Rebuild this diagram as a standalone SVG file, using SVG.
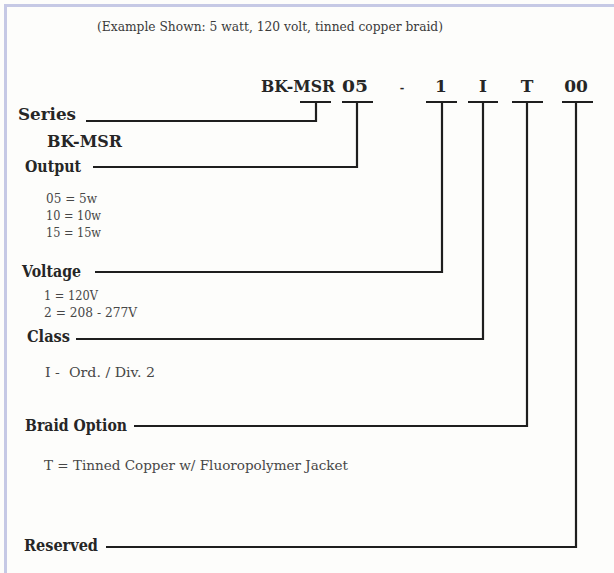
<svg xmlns="http://www.w3.org/2000/svg" width="614" height="573" viewBox="0 0 614 573">
<style>
text{font-family:"DejaVu Serif","Liberation Serif",serif;fill:#262626}
.t{font-size:13.5px;fill:#3a3a3a}
.code{font-size:17px;font-weight:bold}
.lab{font-size:16px;font-weight:bold}
.sm{font-size:13px;fill:#474747}
.ln{fill:none;stroke:#1e1e1e;stroke-width:2.2;stroke-linejoin:miter}
</style>
<rect x="0" y="0" width="614" height="573" fill="#fdfdfb"/>
<path d="M5.5,580 V5.5 H620" fill="none" stroke="#c6c9e5" stroke-width="3"/>
<g id="title"><text class="t" x="97" y="31" textLength="346" lengthAdjust="spacingAndGlyphs">(Example Shown: 5 watt, 120 volt, tinned copper braid)</text></g>
<g id="code">
<text class="code" x="261" y="92" textLength="74" lengthAdjust="spacingAndGlyphs">BK-MSR</text>
<text class="code" x="342" y="92" textLength="26" lengthAdjust="spacingAndGlyphs">05</text>
<text class="code" x="402" y="92" text-anchor="middle" style="font-size:11px">-</text>
<text class="code" x="441" y="92" text-anchor="middle">1</text>
<text class="code" x="483" y="92" text-anchor="middle">I</text>
<text class="code" x="527" y="92" text-anchor="middle">T</text>
<text class="code" x="576" y="92" text-anchor="middle">00</text>
</g>
<g id="series"><text class="code" x="18" y="120" style="font-size:17.5px" textLength="58" lengthAdjust="spacingAndGlyphs">Series</text>
<text class="code" x="47" y="147" textLength="75" lengthAdjust="spacingAndGlyphs">BK-MSR</text></g>
<g id="output"><text class="lab" x="25" y="172" textLength="56" lengthAdjust="spacingAndGlyphs">Output</text>
<text class="sm" x="46" y="203" textLength="51" lengthAdjust="spacingAndGlyphs">05 = 5w</text>
<text class="sm" x="46" y="220" textLength="55" lengthAdjust="spacingAndGlyphs">10 = 10w</text>
<text class="sm" x="46" y="237" textLength="55" lengthAdjust="spacingAndGlyphs">15 = 15w</text></g>
<g id="voltage"><text class="lab" x="22" y="277" textLength="59" lengthAdjust="spacingAndGlyphs">Voltage</text>
<text class="sm" x="44" y="300" textLength="54" lengthAdjust="spacingAndGlyphs">1 = 120V</text>
<text class="sm" x="44" y="317" textLength="93" lengthAdjust="spacingAndGlyphs">2 = 208 - 277V</text></g>
<g id="class"><text class="lab" x="27" y="342" textLength="43" lengthAdjust="spacingAndGlyphs">Class</text>
<text class="sm" x="45" y="377" textLength="110" lengthAdjust="spacingAndGlyphs" xml:space="preserve">I -  Ord. / Div. 2</text></g>
<g id="braid"><text class="lab" x="25" y="431" textLength="102" lengthAdjust="spacingAndGlyphs">Braid Option</text>
<text class="sm" x="44" y="470" textLength="304" lengthAdjust="spacingAndGlyphs">T = Tinned Copper w/ Fluoropolymer Jacket</text></g>
<g id="reserved"><text class="lab" x="24" y="551" textLength="74" lengthAdjust="spacingAndGlyphs">Reserved</text></g>
<g id="connectors" class="ln">
<path class="ln" d="M86,121 H316 V102 M300,102 H331"/>
<path class="ln" d="M93,167 H357 V102 M342,102 H373"/>
<path class="ln" d="M95,272 H442 V102 M426,102 H457"/>
<path class="ln" d="M76,339 H483 V102 M468,102 H498"/>
<path class="ln" d="M134,426 H527 V102 M512,102 H543"/>
<path class="ln" d="M106,547 H576 V102 M562,102 H593"/>
</g>
</svg>
